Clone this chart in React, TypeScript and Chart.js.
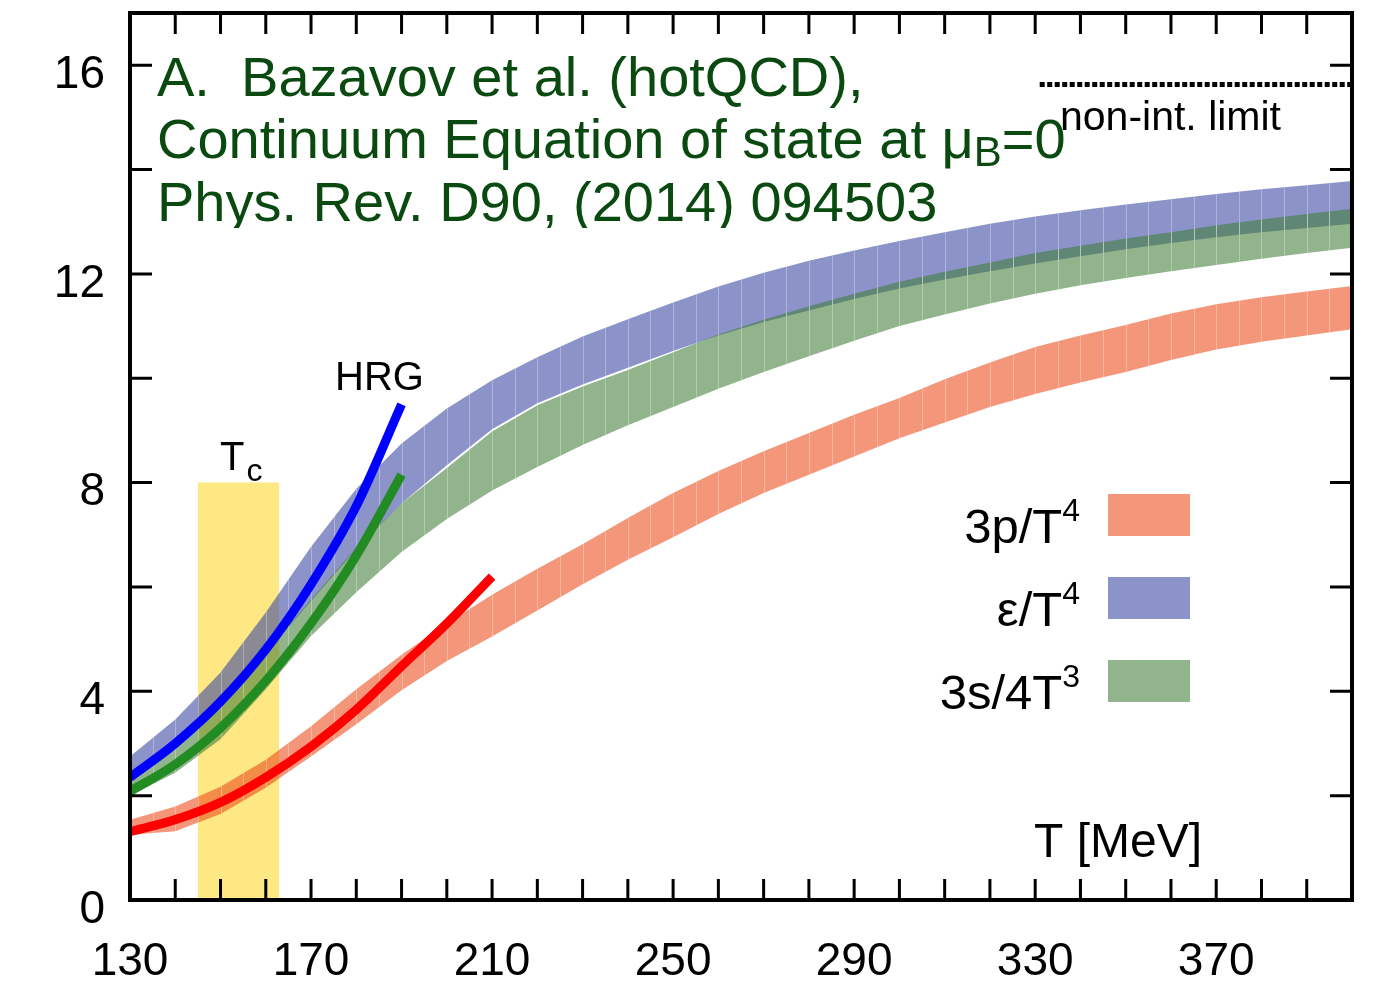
import React, { useEffect, useRef } from "react";
import { Chart, registerables } from "chart.js";

Chart.register(...registerables);

const FONT = "'Liberation Sans', Arial, Helvetica, sans-serif";

// Temperature grid (MeV)
const temperatures = [
  130, 140, 150, 160, 170, 180, 190, 200, 210, 220, 230, 240, 250, 260,
  270, 280, 290, 300, 310, 320, 330, 340, 350, 360, 370, 380, 390, 400,
];

// 3p/T^4 band
const pressureUpper = [
  1.54, 1.79, 2.17, 2.69, 3.33, 4.04, 4.7, 5.3, 5.85, 6.35, 6.82, 7.32, 7.8, 8.22,
  8.6, 8.95, 9.3, 9.62, 9.98, 10.3, 10.6, 10.82, 11.02, 11.24, 11.42, 11.55, 11.66, 11.77,
];
const pressureLower = [
  1.25, 1.32, 1.65, 2.15, 2.75, 3.37, 4.02, 4.58, 5.05, 5.55, 6.05, 6.52, 6.95, 7.4,
  7.8, 8.15, 8.5, 8.85, 9.15, 9.45, 9.7, 9.92, 10.12, 10.35, 10.55, 10.7, 10.82, 10.94,
];

// epsilon/T^4 band
const energyUpper = [
  2.75, 3.46, 4.36, 5.51, 6.77, 7.88, 8.75, 9.42, 9.96, 10.4, 10.8, 11.13, 11.45, 11.76,
  12.02, 12.25, 12.45, 12.63, 12.8, 12.96, 13.1, 13.22, 13.33, 13.43, 13.53, 13.62, 13.7, 13.78,
];
const energyLower = [
  2.38, 2.97, 3.73, 4.73, 5.73, 6.72, 7.6, 8.33, 9.02, 9.52, 9.88, 10.2, 10.52, 10.82,
  11.08, 11.3, 11.52, 11.72, 11.89, 12.05, 12.2, 12.34, 12.47, 12.59, 12.7, 12.8, 12.88, 12.96,
];

// 3s/4T^3 band
const entropyUpper = [
  2.42, 3.0, 3.76, 4.76, 5.76, 6.75, 7.6, 8.28, 8.98, 9.48, 9.84, 10.16, 10.5, 10.84,
  11.12, 11.38, 11.62, 11.85, 12.04, 12.22, 12.4, 12.54, 12.68, 12.8, 12.93, 13.04, 13.15, 13.25,
];
const entropyLower = [
  2.0, 2.44, 3.08, 4.04, 5.06, 5.9, 6.67, 7.3, 7.85, 8.3, 8.72, 9.1, 9.45, 9.8,
  10.12, 10.42, 10.72, 11.0, 11.22, 11.43, 11.62, 11.78, 11.92, 12.05, 12.17, 12.29, 12.4, 12.5,
];

// HRG curves
const hrgTemps = [130, 140, 150, 160, 170, 180, 190];
const hrgEnergy = [2.35, 3.0, 3.8, 4.8, 6.05, 7.55, 9.5];
const hrgEntropy = [2.08, 2.6, 3.3, 4.2, 5.3, 6.6, 8.15];
const hrgPressureTemps = [130, 140, 150, 160, 170, 180, 190, 200, 210];
const hrgPressure = [1.31, 1.54, 1.87, 2.35, 2.94, 3.65, 4.48, 5.3, 6.2];

// Tc band and non-interacting limit
const tcTemps = [145, 163];
const tcTop = [8, 8];
const sbTemps = [331, 400];
const sbValues = [15.63, 15.63];

// Axis ticks
const xTickLabels = [130, 170, 210, 250, 290, 330, 370];
const yTickLabels = [0, 4, 8, 12, 16];

// Legend
const legendMain = ["3p/T", "\u03b5/T", "3s/4T"];
const legendSup = ["4", "4", "3"];

const RED_BAND = "rgba(236,74,26,0.58)";
const BLUE_BAND = "rgba(55,69,160,0.58)";
const GREEN_BAND = "rgba(65,126,57,0.58)";
const legendColors = [RED_BAND, BLUE_BAND, GREEN_BAND];
const TITLE_COLOR = "#0a4a10";
const CLEAR = "rgba(0,0,0,0)";

const pts = (xs: number[], ys: number[]) => xs.map((x, i) => ({ x, y: ys[i] }));

const bandPairs = [
  [1, 2],
  [3, 4],
  [5, 6],
];

const seamPlugin = {
  id: "seams",
  afterDatasetDraw(chart: any, args: any) {
    if (args.index !== 6) return;
    const { ctx, chartArea, scales } = chart;
    for (const [hi, lo] of bandPairs) {
      const hp = chart.getDatasetMeta(hi).data;
      const lp = chart.getDatasetMeta(lo).data;
      ctx.save();
      ctx.beginPath();
      hp.forEach((p: any, i: number) => (i ? ctx.lineTo(p.x, p.y) : ctx.moveTo(p.x, p.y)));
      for (let i = lp.length - 1; i >= 0; i--) ctx.lineTo(lp[i].x, lp[i].y);
      ctx.closePath();
      ctx.clip();
      ctx.strokeStyle = "rgba(255,255,255,0.3)";
      ctx.lineWidth = 1;
      for (let t = 135; t < 400; t += 5) {
        const px = Math.round(scales.x.getPixelForValue(t)) + 0.5;
        ctx.beginPath();
        ctx.moveTo(px, chartArea.top);
        ctx.lineTo(px, chartArea.bottom);
        ctx.stroke();
      }
      ctx.restore();
    }
  },
};

const framePlugin = {
  id: "frame",
  afterDraw(chart: any) {
    const { ctx, chartArea: a, scales } = chart;
    const xs = scales.x;
    const ys = scales.y;
    ctx.save();
    ctx.strokeStyle = "#000";
    ctx.lineWidth = 3;
    ctx.beginPath();
    for (let t = 140; t < 400; t += 10) {
      const px = xs.getPixelForValue(t);
      ctx.moveTo(px, a.bottom);
      ctx.lineTo(px, a.bottom - 21);
      ctx.moveTo(px, a.top);
      ctx.lineTo(px, a.top + 21);
    }
    for (let v = 2; v < 17; v += 2) {
      const py = ys.getPixelForValue(v);
      ctx.moveTo(a.left, py);
      ctx.lineTo(a.left + 22, py);
      ctx.moveTo(a.right, py);
      ctx.lineTo(a.right - 22, py);
    }
    ctx.stroke();
    ctx.lineWidth = 4;
    ctx.strokeRect(a.left, a.top, a.right - a.left, a.bottom - a.top);
    ctx.restore();
  },
};

const textPlugin = {
  id: "texts",
  afterDraw(chart: any) {
    const { ctx, chartArea: a } = chart;
    ctx.save();
    ctx.textBaseline = "alphabetic";
    ctx.textAlign = "left";

    // Title block (clipped at the bottom like the original)
    ctx.save();
    ctx.beginPath();
    ctx.rect(a.left + 2, a.top + 2, 960, 226 - a.top);
    ctx.clip();
    ctx.fillStyle = TITLE_COLOR;
    ctx.font = `56px ${FONT}`;
    ctx.fillText("A.  Bazavov et al. (hotQCD),", 157, 96);
    let x = 157;
    const l2 = "Continuum Equation of state at \u03bc";
    ctx.fillText(l2, x, 158);
    x += ctx.measureText(l2).width;
    ctx.font = `42px ${FONT}`;
    ctx.fillText("B", x, 166);
    x += ctx.measureText("B").width;
    ctx.font = `56px ${FONT}`;
    ctx.fillText("=0", x, 158);
    ctx.fillText("Phys. Rev. D90, (2014) 094503", 157, 221);
    ctx.restore();

    ctx.fillStyle = "#000";
    ctx.font = `41px ${FONT}`;
    ctx.fillText("non-int. limit", 1060, 130);

    ctx.font = `40px ${FONT}`;
    ctx.fillText("HRG", 335, 390);

    ctx.font = `40px ${FONT}`;
    ctx.fillText("T", 220, 470);
    const tw = ctx.measureText("T").width;
    ctx.font = `32px ${FONT}`;
    ctx.fillText("c", 220 + tw + 2, 481);

    ctx.font = `48px ${FONT}`;
    ctx.fillText("T [MeV]", 1034, 857);

    // Legend
    const rowCenters = [515, 598, 681];
    legendMain.forEach((label, i) => {
      const cy = rowCenters[i];
      ctx.font = `32px ${FONT}`;
      const sw = ctx.measureText(legendSup[i]).width;
      const supX = 1080 - sw;
      ctx.fillText(legendSup[i], supX, cy + 6);
      ctx.font = `49px ${FONT}`;
      const mw = ctx.measureText(label).width;
      ctx.fillText(label, supX - mw, cy + 28);
      ctx.fillStyle = legendColors[i];
      ctx.fillRect(1108, cy - 21, 82, 42);
      ctx.fillStyle = "#000";
    });
    ctx.restore();
  },
};

export default function App() {
  const ref = useRef<HTMLCanvasElement>(null);

  useEffect(() => {
    const canvas = ref.current;
    if (!canvas) return;

    const band = (data: any, color: string, fill: any, order: number) => ({
      data,
      backgroundColor: color,
      borderColor: CLEAR,
      borderWidth: 0,
      pointRadius: 0,
      tension: 0,
      fill,
      order,
    });

    const hrg = (data: any, color: string, order: number) => ({
      data,
      borderColor: color,
      backgroundColor: color,
      borderWidth: 9,
      borderCapStyle: "butt",
      pointRadius: 0,
      tension: 0.4,
      cubicInterpolationMode: "monotone",
      fill: false,
      order,
    });

    const chart = new Chart(canvas, {
      type: "line",
      data: {
        datasets: [
          { ...band(pts(tcTemps, tcTop), "#fde883", "origin", 20), label: "Tc" },
          { ...band(pts(temperatures, pressureUpper), RED_BAND, 2, 18), label: "3p/T4" },
          { ...band(pts(temperatures, pressureLower), CLEAR, false, 17), label: "p low" },
          { ...band(pts(temperatures, energyUpper), BLUE_BAND, 4, 16), label: "e/T4" },
          { ...band(pts(temperatures, energyLower), CLEAR, false, 15), label: "e low" },
          { ...band(pts(temperatures, entropyUpper), GREEN_BAND, 6, 14), label: "3s/4T3" },
          { ...band(pts(temperatures, entropyLower), CLEAR, false, 13), label: "s low" },
          {
            label: "non-int. limit",
            data: pts(sbTemps, sbValues),
            borderColor: "#000",
            borderWidth: 5,
            borderDash: [5, 2.5],
            borderCapStyle: "butt",
            pointRadius: 0,
            fill: false,
            order: 5,
          },
          { ...hrg(pts(hrgPressureTemps, hrgPressure), "#ff0000", 3), label: "HRG p" },
          { ...hrg(pts(hrgTemps, hrgEntropy), "#228b22", 2), label: "HRG s" },
          { ...hrg(pts(hrgTemps, hrgEnergy), "#0000ff", 1), label: "HRG e" },
        ] as any,
      },
      options: {
        animation: false,
        responsive: false,
        maintainAspectRatio: false,
        layout: { padding: { top: 13, right: 30, left: 0, bottom: 0 } },
        plugins: { legend: { display: false }, tooltip: { enabled: false } },
        scales: {
          x: {
            type: "linear",
            min: 130,
            max: 400,
            afterBuildTicks: (s: any) => {
              s.ticks = xTickLabels.map((v) => ({ value: v }));
            },
            afterFit: (s: any) => {
              s.height = 83;
              s.paddingLeft = 0;
              s.paddingRight = 0;
              s.paddingTop = 0;
              s.paddingBottom = 0;
            },
            grid: { display: false, drawTicks: false },
            border: { display: false },
            ticks: {
              font: { family: FONT, size: 46 },
              color: "#000",
              padding: 35,
              maxRotation: 0,
              autoSkip: false,
              callback: (v: any) => String(v),
            },
          },
          y: {
            type: "linear",
            min: 0,
            max: 17,
            afterBuildTicks: (s: any) => {
              s.ticks = yTickLabels.map((v) => ({ value: v }));
            },
            afterFit: (s: any) => {
              s.width = 130;
              s.paddingLeft = 0;
              s.paddingRight = 0;
              s.paddingTop = 0;
              s.paddingBottom = 0;
            },
            grid: { display: false, drawTicks: false },
            border: { display: false },
            ticks: {
              font: { family: FONT, size: 46 },
              color: "#000",
              padding: 25,
              labelOffset: 10,
              autoSkip: false,
              callback: (v: any) => String(v),
            },
          },
        },
      } as any,
      plugins: [seamPlugin, framePlugin, textPlugin],
    });

    return () => chart.destroy();
  }, []);

  return (
    <div style={{ position: "fixed", left: 0, top: 0, width: 1382, height: 983, background: "#fff" }}>
      <canvas ref={ref} width={1382} height={983} style={{ width: 1382, height: 983, display: "block" }} />
    </div>
  );
}
